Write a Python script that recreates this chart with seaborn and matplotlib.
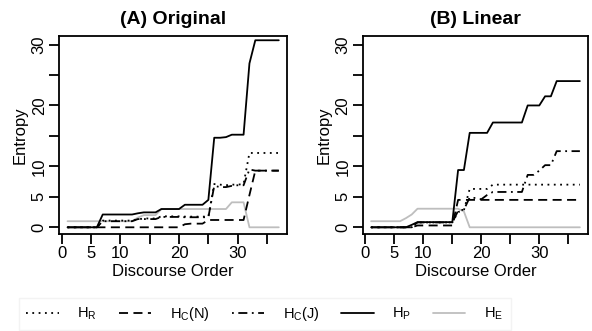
import pandas as pd
import matplotlib
matplotlib.use('Agg')
import matplotlib.pyplot as plt
from matplotlib.lines import Line2D
import seaborn as sns

# Discourse positions
order = list(range(1, 38))

# (A) Original
hp_orig = [0, 0, 0, 0, 0, 0, 2.1, 2.1, 2.1, 2.1, 2.1, 2.1, 2.3, 2.45, 2.45, 2.45,
           3.0, 3.0, 3.0, 3.0, 3.7, 3.7, 3.7, 3.7, 4.5, 14.7, 14.7, 14.8, 15.2, 15.2, 15.2,
           26.9, 30.7, 30.7, 30.7, 30.7, 30.7]
hr_orig = [0, 0, 0, 0, 0, 0, 1.1, 1.1, 1.1, 1.1, 1.1, 1.1, 1.3, 1.45, 1.45, 1.45,
           1.8, 1.8, 1.8, 1.8, 1.75, 1.75, 1.75, 1.75, 1.75, 7.1, 7.0, 6.9, 7.0, 7.0, 7.1,
           12.2, 12.2, 12.2, 12.2, 12.2, 12.2]
hcn_orig = [0, 0, 0, 0, 0, 0, 0, 0, 0, 0, 0, 0, 0, 0, 0, 0, 0, 0, 0, 0,
            0.5, 0.6, 0.6, 0.6, 1.2, 1.2, 1.2, 1.2, 1.2, 1.2, 1.2,
            5.3, 9.3, 9.3, 9.3, 9.3, 9.3]
hcj_orig = [0, 0, 0, 0, 0, 0, 1.0, 1.0, 1.0, 1.0, 1.0, 1.0, 1.35, 1.35, 1.35, 1.35,
            1.7, 1.7, 1.7, 1.7, 1.65, 1.65, 1.65, 1.65, 1.65, 6.8, 6.6, 6.6, 6.8, 6.9, 6.9,
            9.5, 9.3, 9.3, 9.3, 9.3, 9.3]
he_orig = [1.0, 1.0, 1.0, 1.0, 1.0, 1.0, 1.0, 1.0, 1.0, 1.0, 1.0, 1.0, 1.6, 2.0, 2.0, 2.0,
           3.0, 3.0, 3.0, 3.0, 3.0, 3.0, 3.0, 3.0, 3.0, 3.0, 3.0, 3.0, 4.1, 4.1, 4.1,
           0, 0, 0, 0, 0, 0]

# (B) Linear
hp_lin = [0, 0, 0, 0, 0, 0, 0, 0.4, 0.85, 0.85, 0.85, 0.85, 0.85, 0.85, 0.85,
          9.4, 9.4, 15.5, 15.5, 15.5, 15.5, 17.2, 17.2, 17.2, 17.2, 17.2, 17.2,
          20.0, 20.0, 20.0, 21.5, 21.5, 24.0, 24.0, 24.0, 24.0, 24.0]
hr_lin = [0, 0, 0, 0, 0, 0, 0, 0, 0.8, 0.8, 0.8, 0.8, 0.8, 0.8, 0.8,
          2.5, 2.8, 6.3, 6.3, 6.3, 6.3, 7.0, 7.0, 7.0, 7.0, 7.0, 7.0,
          7.0, 7.0, 7.0, 7.0, 7.0, 7.0, 7.0, 7.0, 7.0, 7.0]
hcn_lin = [0, 0, 0, 0, 0, 0, 0, 0, 0.3, 0.3, 0.3, 0.3, 0.3, 0.3, 0.3,
           4.5, 4.5, 4.5, 4.5, 4.5, 4.5, 4.5, 4.5, 4.5, 4.5, 4.5, 4.5,
           4.5, 4.5, 4.5, 4.5, 4.5, 4.5, 4.5, 4.5, 4.5, 4.5]
hcj_lin = [0, 0, 0, 0, 0, 0, 0, 0, 0.8, 0.8, 0.8, 0.8, 0.8, 0.8, 0.8,
           2.7, 2.9, 4.9, 4.8, 4.6, 5.3, 5.8, 5.8, 5.8, 5.8, 5.8, 5.8,
           8.6, 8.6, 9.3, 10.2, 10.2, 12.5, 12.5, 12.5, 12.5, 12.5]
he_lin = [1.0, 1.0, 1.0, 1.0, 1.0, 1.0, 1.5, 2.1, 3.05, 3.05, 3.05, 3.05, 3.05, 3.05, 3.05,
          3.05, 2.6, 0, 0, 0, 0, 0, 0, 0, 0, 0, 0,
          0, 0, 0, 0, 0, 0, 0, 0, 0, 0]

measures = ['HE', 'HR', 'HCN', 'HCJ', 'HP']
legend_order = ['HR', 'HCN', 'HCJ', 'HP', 'HE']
legend_labels = {'HR': r'$\mathregular{H_R}$', 'HCN': r'$\mathregular{H_C(N)}$',
                 'HCJ': r'$\mathregular{H_C(J)}$', 'HP': r'$\mathregular{H_P}$',
                 'HE': r'$\mathregular{H_E}$'}
palette = {'HR': 'black', 'HCN': 'black', 'HCJ': 'black', 'HP': 'black', 'HE': '#bebebe'}
dashes = {'HR': (1, 2.5), 'HCN': (5, 3), 'HCJ': (1, 2.5, 5, 2.5), 'HP': '', 'HE': ''}

def to_long(series):
    frames = []
    for m in measures:
        frames.append(pd.DataFrame({'order': order, 'entropy': series[m], 'measure': m}))
    return pd.concat(frames, ignore_index=True)

df_orig = to_long({'HP': hp_orig, 'HR': hr_orig, 'HCN': hcn_orig, 'HCJ': hcj_orig, 'HE': he_orig})
df_lin = to_long({'HP': hp_lin, 'HR': hr_lin, 'HCN': hcn_lin, 'HCJ': hcj_lin, 'HE': he_lin})

sns.set_style('ticks', {'text.color': 'black', 'axes.labelcolor': 'black',
                        'xtick.color': 'black', 'ytick.color': 'black',
                        'axes.edgecolor': 'black'})
plt.rcParams['font.family'] = ['Liberation Sans', 'DejaVu Sans']
plt.rcParams['mathtext.fontset'] = 'custom'
plt.rcParams['mathtext.rm'] = 'Liberation Sans'

fig = plt.figure(figsize=(5.92, 3.31), dpi=100)
ax_a = fig.add_axes([59.3 / 592, 1 - 234 / 331, 227.7 / 592, 198 / 331])
ax_b = fig.add_axes([363 / 592, 1 - 234 / 331, 225 / 592, 198 / 331])

tick_pos = [0, 5, 10, 15, 20, 25, 30, 35]
tick_lab = ['0', '5', '10', '', '20', '', '30', '']
ytick_pos = [0, 5, 10, 15, 20, 25, 30]
ytick_lab = ['0', '5', '10', '', '20', '', '30']

for ax, df, title in [(ax_a, df_orig, '(A) Original'), (ax_b, df_lin, '(B) Linear')]:
    sns.lineplot(data=df, x='order', y='entropy', hue='measure', style='measure',
                 hue_order=measures, style_order=measures, palette=palette,
                 dashes=dashes, linewidth=1.3, legend=False, ax=ax)
    ax.set_xlim(-0.4, 38.4)
    ax.set_ylim(-1.1, 31.4)
    ax.set_xticks(tick_pos)
    ax.set_xticklabels(tick_lab, fontsize=12)
    ax.set_yticks(ytick_pos)
    ax.set_yticklabels(ytick_lab, fontsize=12, rotation=90, va='center')
    ax.tick_params(direction='out', length=7, width=1.3, pad=2)
    for sp in ax.spines.values():
        sp.set_visible(True)
        sp.set_linewidth(1.3)
    ax.set_xlabel('Discourse Order', fontsize=12, labelpad=2)
    ax.set_ylabel('Entropy', fontsize=12, labelpad=3)
    ax.set_title(title, fontsize=14, fontweight='bold', pad=9)

handles = [Line2D([], [], color=palette[m], linewidth=1.3,
                  linestyle=(0, dashes[m]) if dashes[m] else '-') for m in legend_order]
fig.legend(handles, [legend_labels[m] for m in legend_order], loc='center',
           bbox_to_anchor=(265 / 592, 1 - 314 / 331), ncol=5, fontsize=10.5,
           frameon=True, edgecolor='#f0f0f0', fancybox=False, handlelength=2.2,
           handletextpad=1.3, columnspacing=1.5, borderpad=0.5)

fig.savefig('out.png', dpi=100)
